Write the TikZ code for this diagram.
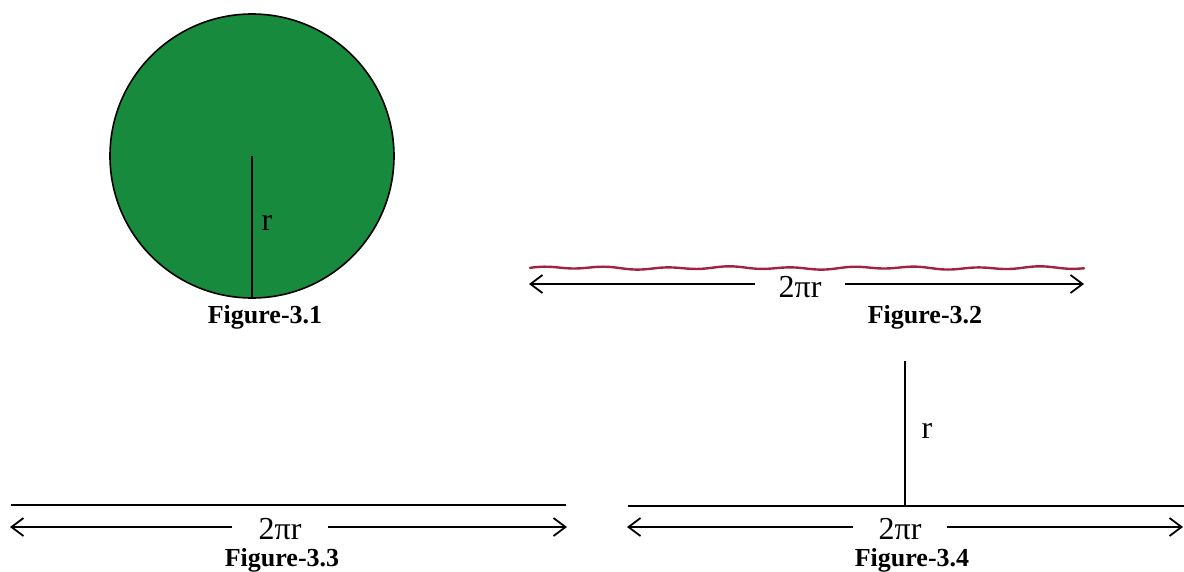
\documentclass[tikz,border=0pt]{standalone}
\usepackage{fontspec}
\setmainfont{Liberation Serif}
\usetikzlibrary{arrows.meta}
\definecolor{discgreen}{RGB}{24,138,62}
\definecolor{wirered}{RGB}{160,35,68}
\tikzset{
  lbl/.style={font=\fontsize{26}{30}\selectfont\bfseries, anchor=base, inner sep=0pt},
  sym/.style={font=\fontsize{32}{36}\selectfont, anchor=base, inner sep=0pt},
  gapbox/.style={font=\fontsize{32}{36}\selectfont, anchor=base, inner sep=0pt, minimum width=90pt},
  ln/.style={line width=2pt, black},
  arr/.style={line width=1.8pt, black, -{Straight Barb[length=12pt,width=18pt,line width=1.8pt]}},
}
\begin{document}
\begin{tikzpicture}[x=1pt,y=-1pt]
\path[use as bounding box] (0,0) rectangle (1184,571);
% Figure 3.1
\node[circle, draw=black, line width=1.6pt, fill=discgreen, minimum size=284pt, inner sep=0pt] (disc) at (252,156) {};
\draw[ln] (disc.center) -- (disc.south);
\node[sym] (r1) at (267,230) {r};
\node[lbl] (f1) at (265,323) {Figure-3.1};
% Figure 3.2
\draw[wirered, line width=2.4pt, line cap=round] plot[domain=530:1084, samples=160, smooth] (\x, {268 + 1.1*sin(\x*5.8) + 0.6*sin(\x*2.3+30)});
\coordinate (a1) at (529,284);
\coordinate (a2) at (1084,284);
\node[gapbox] (t2) at (800,297) {2πr};
\draw[arr] (t2.west |- a1) -- (a1);
\draw[arr] (t2.east |- a2) -- (a2);
\node[lbl] (f2) at (925,323) {Figure-3.2};
% Figure 3.3
\coordinate (l1) at (11,505);
\coordinate (l2) at (566,505);
\draw[ln] (l1) -- (l2);
\coordinate (b1) at (10,527);
\coordinate (b2) at (567,527);
\node[gapbox, minimum width=95pt] (t3) at (280,539) {2πr};
\draw[arr] (t3.west |- b1) -- (b1);
\draw[arr] (t3.east |- b2) -- (b2);
\node[lbl] (f3) at (282,566) {Figure-3.3};
% Figure 3.4
\coordinate (m1) at (628,506);
\coordinate (m2) at (1184,506);
\coordinate (top) at (905,361);
\coordinate (foot) at (905,506);
\draw[ln] (m1) -- (m2);
\draw[ln] (top) -- (foot);
\node[sym] (r4) at (927,438) {r};
\coordinate (c1) at (627,527);
\coordinate (c2) at (1183,527);
\node[gapbox, minimum width=94pt] (t4) at (900,539) {2πr};
\draw[arr] (t4.west |- c1) -- (c1);
\draw[arr] (t4.east |- c2) -- (c2);
\node[lbl] (f4) at (912,566) {Figure-3.4};
\end{tikzpicture}
\end{document}
